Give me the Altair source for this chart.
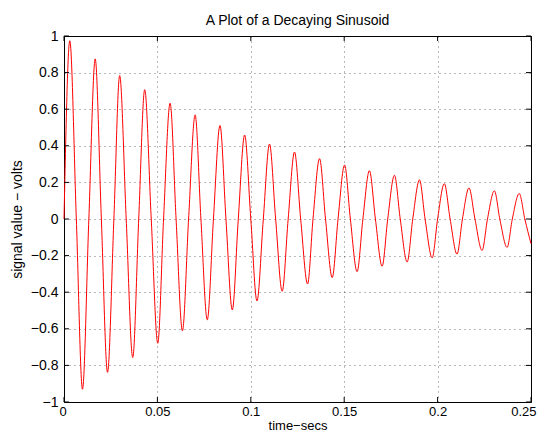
import altair as alt
import pandas as pd

# Time (s) of the extrema and zero crossings
t = [0.0000, 0.0031, 0.0066, 0.0099, 0.0133, 0.0167, 0.0200, 0.0233, 0.0267, 0.0298,
     0.0333, 0.0368, 0.0400, 0.0432, 0.0467, 0.0502, 0.0533, 0.0568, 0.0600, 0.0634,
     0.0667, 0.0702, 0.0733, 0.0767, 0.0800, 0.0835, 0.0867, 0.0901, 0.0933, 0.0967,
     0.1000, 0.1033, 0.1067, 0.1100, 0.1133, 0.1168, 0.1200, 0.1234, 0.1267, 0.1304,
     0.1333, 0.1368, 0.1400, 0.1436, 0.1467, 0.1502, 0.1533, 0.1569, 0.1600, 0.1635,
     0.1667, 0.1703, 0.1733, 0.1769, 0.1800, 0.1837, 0.1867, 0.1903, 0.1933, 0.1971,
     0.2000, 0.2036, 0.2067, 0.2104, 0.2133, 0.2168, 0.2200, 0.2238, 0.2267, 0.2304,
     0.2333, 0.2372, 0.2400, 0.2437, 0.2467, 0.2500]
# Signal value (V) at those times
v = [0.0, 0.974, 0.0, -0.930, 0.0, 0.875, 0.0, -0.838, 0.0, 0.784,
     0.0, -0.757, 0.0, 0.707, 0.0, -0.679, 0.0, 0.633, 0.0, -0.611,
     0.0, 0.569, 0.0, -0.551, 0.0, 0.511, 0.0, -0.497, 0.0, 0.459,
     0.0, -0.448, 0.0, 0.410, 0.0, -0.395, 0.0, 0.366, 0.0, -0.355,
     0.0, 0.330, 0.0, -0.320, 0.0, 0.295, 0.0, -0.288, 0.0, 0.264,
     0.0, -0.258, 0.0, 0.239, 0.0, -0.235, 0.0, 0.214, 0.0, -0.212,
     0.0, 0.193, 0.0, -0.192, 0.0, 0.170, 0.0, -0.172, 0.0, 0.154,
     0.0, -0.155, 0.0, 0.139, 0.0, -0.135]

x_ticks = [0, 0.05, 0.1, 0.15, 0.2, 0.25]
y_ticks = [-1, -0.8, -0.6, -0.4, -0.2, 0, 0.2, 0.4, 0.6, 0.8, 1]

W, H = 467, 366
FONT = "Liberation Sans"

df = pd.DataFrame({"t": t, "v": v})
xt = pd.DataFrame({"t": x_ticks})
yt = pd.DataFrame({"v": y_ticks})

xscale = alt.Scale(domain=[0, 0.25], nice=False, zero=False)
yscale = alt.Scale(domain=[-1, 1], nice=False, zero=False)

xaxis = alt.Axis(values=x_ticks, format="~g", title="time\u2212secs",
                 grid=True, tickSize=0, labelPadding=3, titlePadding=1,
                 labelFontSize=13, titleFontSize=13,
                 labelOverlap=False, labelFlush=True, labelFlushOffset=5)
yaxis = alt.Axis(values=y_ticks, format="~g", title="signal value \u2212 volts",
                 grid=True, tickSize=0, labelPadding=6, titlePadding=6,
                 labelOverlap=False, labelFlush=False)
xenc = alt.X("t:Q", scale=xscale, axis=xaxis)
yenc = alt.Y("v:Q", scale=yscale, axis=yaxis)

line = alt.Chart(df).mark_line(color="#ff0000", strokeWidth=1,
                               interpolate="monotone").encode(x=xenc, y=yenc)

tick_len = 5
xtick_top = alt.Chart(xt).mark_rule(color="black", strokeWidth=1).encode(
    x=xenc, y=alt.value(0), y2=alt.value(tick_len))
xtick_bot = alt.Chart(xt).mark_rule(color="black", strokeWidth=1).encode(
    x=xenc, y=alt.value(H - tick_len), y2=alt.value(H))
ytick_l = alt.Chart(yt).mark_rule(color="black", strokeWidth=1).encode(
    y=yenc, x=alt.value(0), x2=alt.value(tick_len))
ytick_r = alt.Chart(yt).mark_rule(color="black", strokeWidth=1).encode(
    y=yenc, x=alt.value(W - tick_len), x2=alt.value(W))

chart = alt.layer(line, xtick_top, xtick_bot, ytick_l, ytick_r).properties(
    width=W, height=H,
    title=alt.Title("A Plot of a Decaying Sinusoid", fontSize=14, fontWeight="normal",
                    font=FONT, color="black", offset=1),
    autosize=alt.AutoSizeParams(type="none"),
    padding={"left": 56, "top": 28, "right": 6, "bottom": 29},
).configure_view(
    stroke="black", strokeWidth=1
).configure_axis(
    labelFont=FONT, titleFont=FONT, labelFontSize=14, titleFontSize=14,
    titleFontWeight="normal", labelColor="black", titleColor="black",
    labelOverlap=False,
    domain=False, gridColor="black", gridOpacity=0.55, gridDash=[1, 4], gridWidth=1,
)

chart.save("out.html", embed_options={"renderer": "svg", "actions": False})
